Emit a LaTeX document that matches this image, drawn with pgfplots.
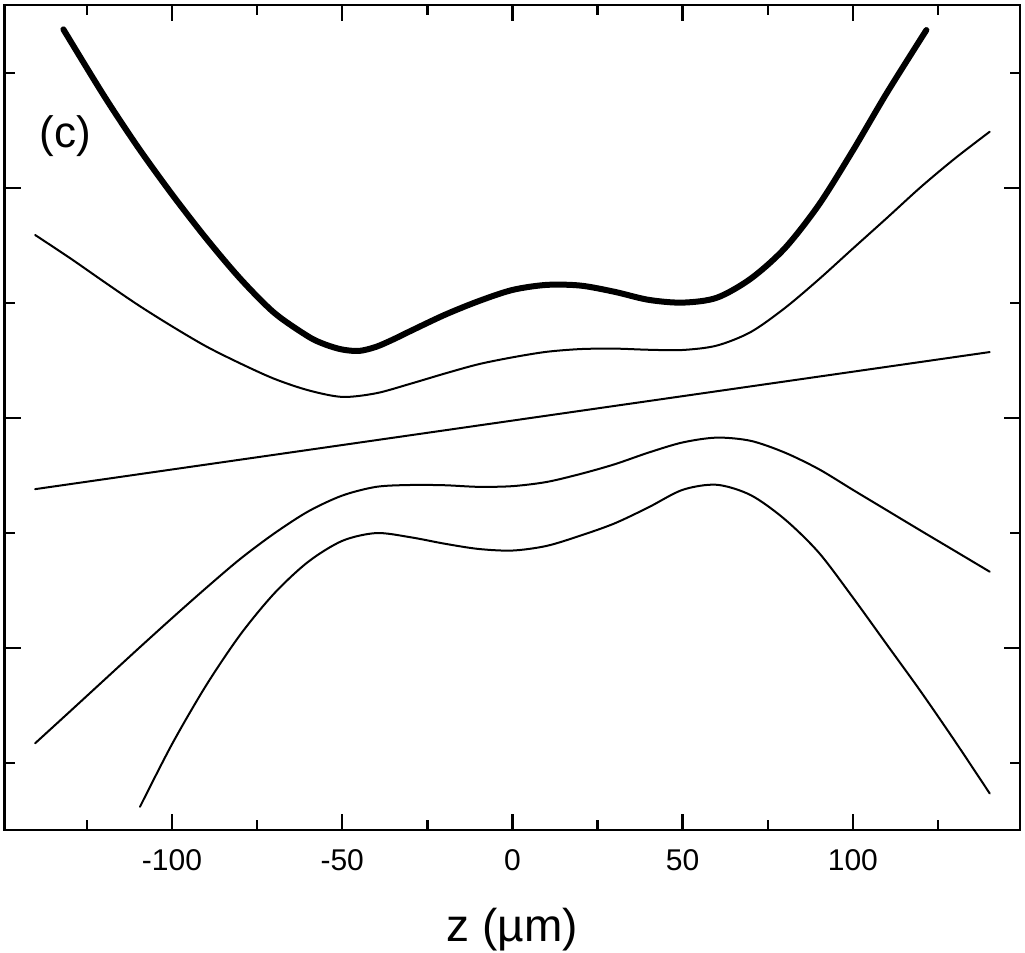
\documentclass[border=0pt]{standalone}
\usepackage{fontspec}
\setmainfont{Liberation Sans}
\usepackage{pgfplots}
\pgfplotsset{compat=1.18}

\begin{document}
\begin{tikzpicture}
\useasboundingbox (-2.25pt,-61.5pt) rectangle (510.25pt,415pt);
\begin{axis}[
  at={(0,0)}, anchor=south west,
  scale only axis,
  width=507.75pt, height=412.5pt,
  xmin=-149.2, xmax=149.1,
  ymin=-1.791, ymax=1.796,
  axis line style={line width=1.3pt},
  tick style={line width=1.2pt, black},
  tick align=inside,
  xtick={-100,-50,0,50,100},
  minor xtick={-125,-75,-25,25,75,125},
  ytick={-1,0,1},
  minor ytick={-1.5,-0.5,0.5,1.5},
  yticklabels={},
  major tick length=8pt,
  minor tick length=5pt,
  /pgf/number format/assume math mode=true,
  ticklabel style={font=\fontsize{15}{18}\selectfont},
  xticklabel style={yshift=-6pt},
  xlabel={z (µm)},
  xlabel style={font=\fontsize{23}{27}\selectfont, at={(axis description cs:0.5,0)}, anchor=base, yshift=-56pt},
  every axis plot/.append style={line join=round, line cap=round},
]
% upper envelope (thick)
\addplot[black, line width=3pt, smooth] coordinates {
(-131.9,1.690) (-120,1.402) (-110,1.178) (-100,0.973) (-90,0.782)
(-80,0.607) (-70,0.458) (-60,0.355) (-55,0.320) (-50,0.298) (-45,0.292)
(-40,0.310) (-35,0.342) (-30,0.378) (-20,0.448) (-10,0.508) (0,0.557) (10,0.579)
(20,0.576) (30,0.549) (40,0.514) (50,0.502) (60,0.523)
(70,0.606) (80,0.738) (90,0.927) (100,1.163) (110,1.414) (121.6,1.687)
};
% upper thin curve
\addplot[black, line width=1pt, smooth] coordinates {
(-140.2,0.796) (-130,0.696) (-120,0.593) (-110,0.492) (-100,0.399)
(-90,0.312) (-80,0.238) (-70,0.171) (-60,0.121) (-50,0.092)
(-40,0.108) (-30,0.149) (-20,0.193) (-10,0.234) (0,0.264)
(10,0.288) (20,0.300) (30,0.302) (40,0.297) (50,0.296)
(60,0.315) (70,0.374) (80,0.478) (90,0.603) (100,0.737)
(110,0.870) (120,1.005) (130,1.129) (140.2,1.245)
};
% centre line
\addplot[black, line width=1pt] coordinates {(-140.2,-0.309) (140.2,0.287)};
% lower thin curve
\addplot[black, line width=1pt, smooth] coordinates {
(-140.2,-1.414) (-130,-1.276) (-120,-1.140) (-110,-1.004) (-100,-0.870)
(-90,-0.739) (-80,-0.613) (-70,-0.502) (-60,-0.406) (-50,-0.337)
(-40,-0.299) (-30,-0.291) (-20,-0.292) (-10,-0.299) (0,-0.296)
(10,-0.278) (20,-0.243) (30,-0.201) (40,-0.150) (50,-0.106)
(60,-0.085) (70,-0.099) (80,-0.150) (90,-0.222) (100,-0.312)
(110,-0.401) (120,-0.490) (130,-0.578) (140.2,-0.668)
};
% lowest curve
\addplot[black, line width=1pt, smooth] coordinates {
(-109.4,-1.690) (-100,-1.418) (-90,-1.163) (-80,-0.943) (-70,-0.763)
(-60,-0.625) (-50,-0.534) (-40,-0.500) (-30,-0.518) (-20,-0.546)
(-10,-0.569) (0,-0.576) (10,-0.556) (20,-0.511) (30,-0.458)
(40,-0.388) (50,-0.312) (60,-0.290) (70,-0.335) (80,-0.440)
(90,-0.585) (100,-0.780) (110,-0.985) (120,-1.190) (130,-1.405) (140.2,-1.632)
};
\node[anchor=base, font=\fontsize{22}{26}\selectfont] at (rel axis cs:0.060,0.827) {(c)};
\end{axis}
\end{tikzpicture}
\end{document}
